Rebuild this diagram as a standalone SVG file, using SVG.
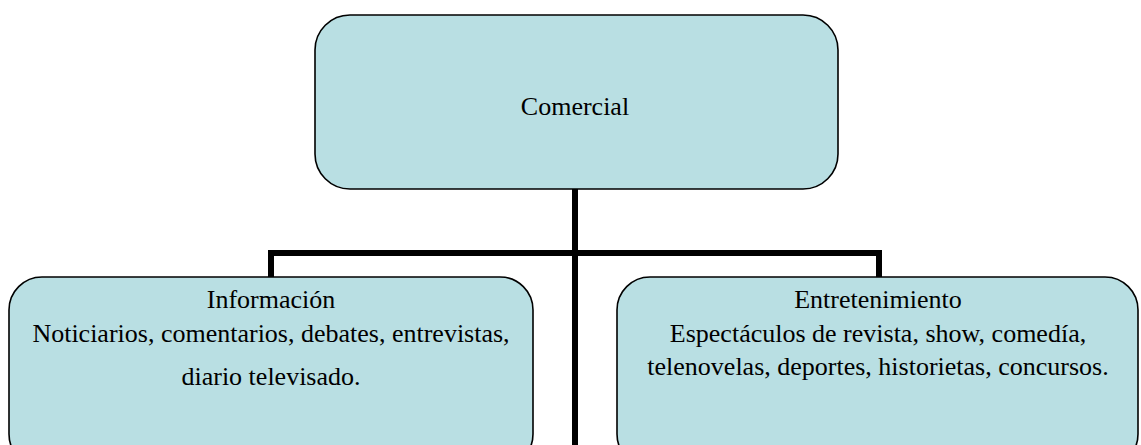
<svg xmlns="http://www.w3.org/2000/svg" width="1141" height="445" viewBox="0 0 1141 445">
<style>
.box{fill:#b9dfe3;stroke:#000;stroke-width:1.6}
.t{font-family:"Liberation Serif","Times New Roman",serif;font-size:26px;fill:#000;text-anchor:middle}
.c{fill:none;stroke:#000;stroke-width:6;stroke-linejoin:miter}
</style>
<rect width="1141" height="445" fill="#fff"/>
<g id="connectors">
<path class="c" d="M575,189 V445"/>
<path class="c" d="M271,279 V253 H879 V279"/>
</g>
<g id="comercial">
<rect class="box" x="315" y="15" width="523" height="174" rx="35"/>
<text class="t" x="575" y="115" font-size="27">Comercial</text>
</g>
<g id="informacion">
<rect class="box" x="9" y="277" width="524" height="190" rx="33"/>
<text class="t" x="271" y="308">Información</text>
<text class="t" x="271" y="342">Noticiarios, comentarios, debates, entrevistas,</text>
<text class="t" x="271" y="385">diario televisado.</text>
</g>
<g id="entretenimiento">
<rect class="box" x="617" y="277" width="521" height="190" rx="33"/>
<text class="t" x="878" y="308">Entretenimiento</text>
<text class="t" x="878" y="342">Espectáculos de revista, show, comedía,</text>
<text class="t" x="878" y="375">telenovelas, deportes, historietas, concursos.</text>
</g>
</svg>
